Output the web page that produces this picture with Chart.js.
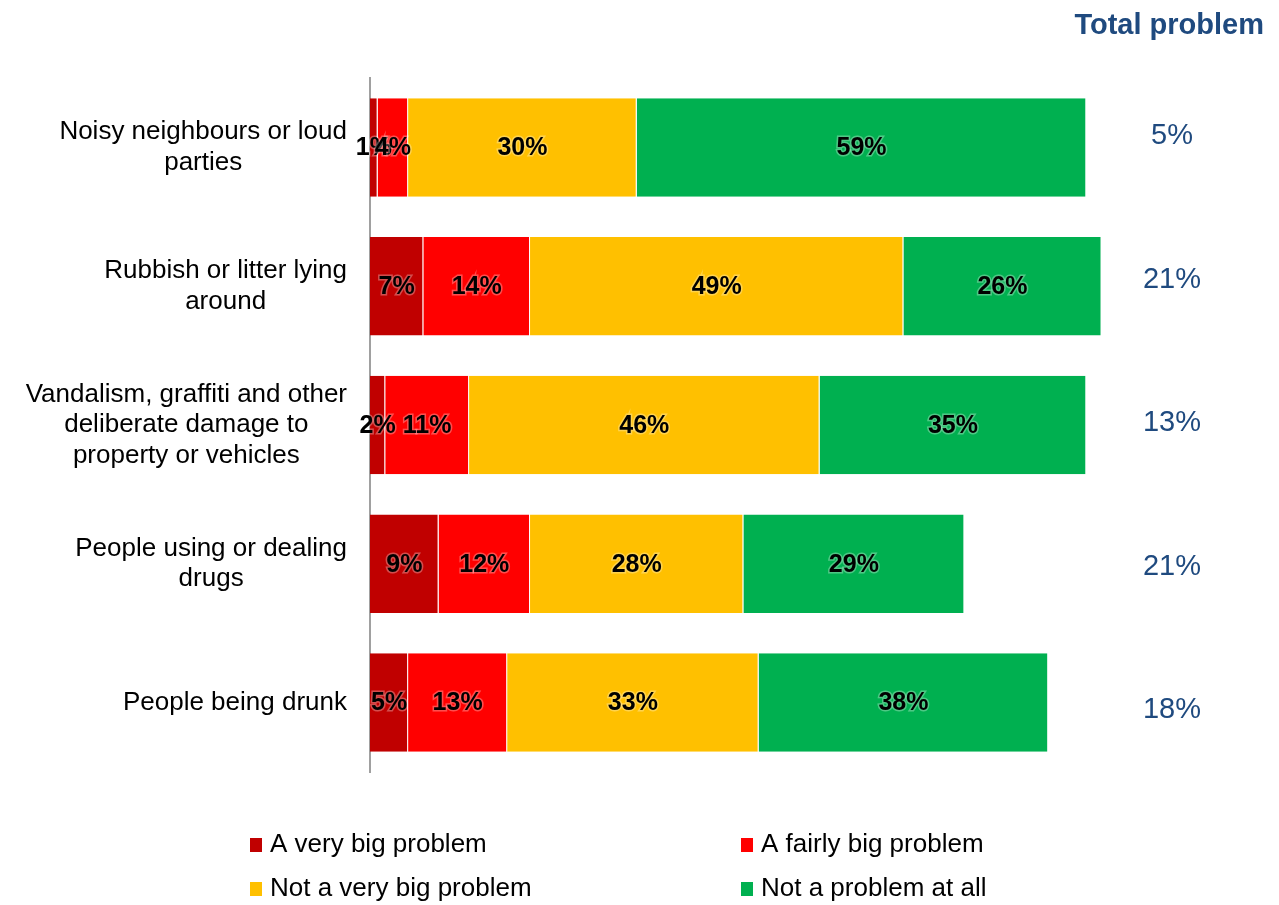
<!DOCTYPE html>
<html>
<head>
<meta charset="utf-8">
<script src="https://cdn.jsdelivr.net/npm/chart.js@4.4.1/dist/chart.umd.min.js"></script>
<style>
  body { margin: 0; background: #fff; }
  #wrap { width: 1279px; height: 905px; }
</style>
</head>
<body>
<div id="wrap"><canvas id="chart" width="1279" height="905"></canvas></div>
<script>
var categories = [
    ["Noisy neighbours or loud", "parties"],
    ["Rubbish or litter lying", "around"],
    ["Vandalism, graffiti and other", "deliberate damage to", "property or vehicles"],
    ["People using or dealing", "drugs"],
    ["People being drunk"]
];
var veryBig = [1, 7, 2, 9, 5];
var fairlyBig = [4, 14, 11, 12, 13];
var notVeryBig = [30, 49, 46, 28, 33];
var notAtAll = [59, 26, 35, 29, 38];
var totalProblem = [5, 21, 13, 21, 18];

var seriesNames = ["A very big problem", "A fairly big problem", "Not a very big problem", "Not a problem at all"];
var seriesColors = ["#C00000", "#FF0000", "#FFC000", "#00B050"];
var navy = "#1F4A7F";

function makeSet(i, values) {
    return {
        label: seriesNames[i],
        data: values,
        backgroundColor: seriesColors[i],
        borderColor: "rgba(255,255,255,0.55)",
        borderWidth: { left: 0, right: 1, top: 0, bottom: 0 },
        borderSkipped: false,
        barPercentage: 0.71,
        categoryPercentage: 1
    };
}

// category names (right-aligned block, lines centred), segment values, totals and legend
var extras = {
    id: 'extras',
    afterDatasetsDraw: function(chart) {
        var ctx = chart.ctx;
        ctx.save();
        // values inside segments
        ctx.font = "bold 25px 'Liberation Sans', Arial, sans-serif";
        ctx.textAlign = "center";
        ctx.textBaseline = "middle";
        chart.data.datasets.forEach(function(ds, di) {
            chart.getDatasetMeta(di).data.forEach(function(bar, i) {
                var v = ds.data[i];
                var cx = (bar.x + bar.base) / 2;
                var txt = v + "%";
                ctx.lineWidth = 3;
                ctx.strokeStyle = "rgba(255,255,255,0.3)";
                ctx.strokeText(txt, cx, bar.y + 1);
                ctx.fillStyle = "#000";
                ctx.fillText(txt, cx, bar.y + 1);
            });
        });
        ctx.restore();
    },
    afterDraw: function(chart) {
        var ctx = chart.ctx;
        var y = chart.scales.y;
        var area = chart.chartArea;
        ctx.save();

        // category labels
        ctx.font = "26px 'Liberation Sans', Arial, sans-serif";
        ctx.fillStyle = "#000";
        ctx.textBaseline = "middle";
        ctx.textAlign = "center";
        var lh = 30.5;
        categories.forEach(function(lines, i) {
            var w = 0;
            lines.forEach(function(l) { w = Math.max(w, ctx.measureText(l).width); });
            var right = area.left - 23;
            var cx = right - w / 2;
            var cy = y.getPixelForValue(i);
            var top = cy - (lines.length - 1) * lh / 2;
            lines.forEach(function(l, k) {
                ctx.fillText(l, cx, top + k * lh);
            });
        });

        // total problem column, evenly spaced down the right side
        ctx.fillStyle = navy;
        ctx.font = "bold 29px 'Liberation Sans', Arial, sans-serif";
        ctx.textAlign = "right";
        ctx.fillText("Total problem", 1264, 26);
        ctx.font = "29px 'Liberation Sans', Arial, sans-serif";
        ctx.textAlign = "center";
        var colTop = 136, colBottom = 710;
        var step = (colBottom - colTop) / (totalProblem.length - 1);
        totalProblem.forEach(function(t, i) {
            ctx.fillText(t + "%", 1172, colTop + i * step);
        });

        // legend, two columns
        ctx.font = "26px 'Liberation Sans', Arial, sans-serif";
        ctx.textAlign = "left";
        var cols = [250, 741];
        var rows = [845, 889];
        seriesNames.forEach(function(name, i) {
            var x = cols[i % 2];
            var ry = rows[Math.floor(i / 2)];
            ctx.fillStyle = seriesColors[i];
            ctx.fillRect(x, ry - 7, 12, 14);
            ctx.fillStyle = "#000";
            ctx.fillText(name, x + 20, ry);
        });
        ctx.restore();
    }
};

var ctx = document.getElementById('chart').getContext('2d');
window.myChart = new Chart(ctx, {
    type: 'bar',
    data: {
        labels: categories,
        datasets: [
            makeSet(0, veryBig),
            makeSet(1, fairlyBig),
            makeSet(2, notVeryBig),
            makeSet(3, notAtAll)
        ]
    },
    options: {
        indexAxis: 'y',
        responsive: false,
        animation: false,
        devicePixelRatio: 1,
        layout: { padding: { top: 78, bottom: 133, right: 147, left: 0 } },
        plugins: {
            legend: { display: false },
            tooltip: { enabled: false }
        },
        scales: {
            x: {
                stacked: true,
                display: false,
                min: 0,
                max: 100
            },
            y: {
                stacked: true,
                grid: { display: false },
                border: { display: true, color: '#A0A0A0', width: 2 },
                ticks: { display: false },
                afterFit: function(scale) { scale.width = 370; }
            }
        }
    },
    plugins: [extras]
});
</script>
</body>
</html>
